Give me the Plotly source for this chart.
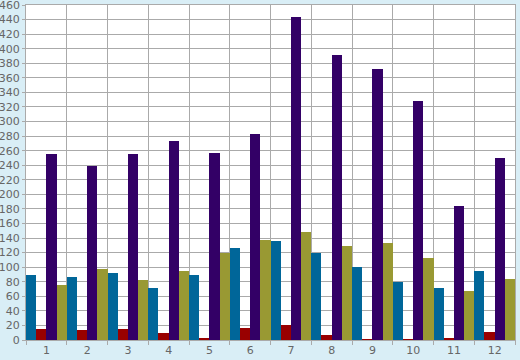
import plotly.graph_objects as go

categories = [str(i) for i in range(1, 13)]
series_blue = [89, 86, 92, 72, 89, 126, 136, 120, 100, 80, 71, 95]
series_red = [15, 14, 15, 9, 3, 17, 20, 7, 1, 1, 3, 11]
series_purple = [255, 239, 255, 273, 257, 283, 443, 391, 372, 328, 184, 250]
series_olive = [75, 97, 82, 95, 120, 137, 148, 129, 133, 113, 67, 84]
y_ticks = list(range(0, 461, 20))
y_tick_text = [str(v) for v in y_ticks]

names = ["Series 1", "Series 2", "Series 3", "Series 4"]
colors = ["#006699", "#990000", "#330066", "#999933"]
values = [series_blue, series_red, series_purple, series_olive]

fig = go.Figure()
for n, c, v in zip(names, colors, values):
    fig.add_trace(go.Bar(x=categories, y=v, name=n, marker=dict(color=c, line=dict(width=0))))

grid = "#aaaaaa"
fig.update_layout(
    width=520, height=360,
    margin=dict(l=26, r=5, t=5, b=20),
    paper_bgcolor="#d9eef6",
    plot_bgcolor="#ffffff",
    barmode="group", bargap=0, bargroupgap=0,
    showlegend=False,
    font=dict(family="DejaVu Sans", size=11, color="#666666"),
)
fig.update_xaxes(
    type="category", tickson="boundaries", ticks="outside", ticklen=4,
    tickcolor=grid, showgrid=True, gridcolor=grid, gridwidth=1,
    showline=True, linecolor=grid, mirror=True, automargin=False,
)
fig.update_yaxes(
    range=[0, 460], tickmode="array", tickvals=y_ticks,
    ticktext=y_tick_text[:-1] + [""],
    ticks="outside", ticklen=3, tickcolor=grid,
    showgrid=True, gridcolor=grid, gridwidth=1,
    showline=True, linecolor=grid, mirror=True, zeroline=False, automargin=False,
)
# top tick label (Plotly drops it at the paper edge), placed at the same spot
fig.add_annotation(
    x=0, xref="paper", y=y_ticks[-1], yref="y", text=y_tick_text[-1],
    showarrow=False, xanchor="right", yanchor="middle", xshift=-4,
    font=dict(family="DejaVu Sans", size=11, color="#666666"),
)
fig.write_html(
    "out.html",
    config={"displayModeBar": False},
    post_script="document.body.style.margin='0';document.body.style.background='#d9eef6';",
)
